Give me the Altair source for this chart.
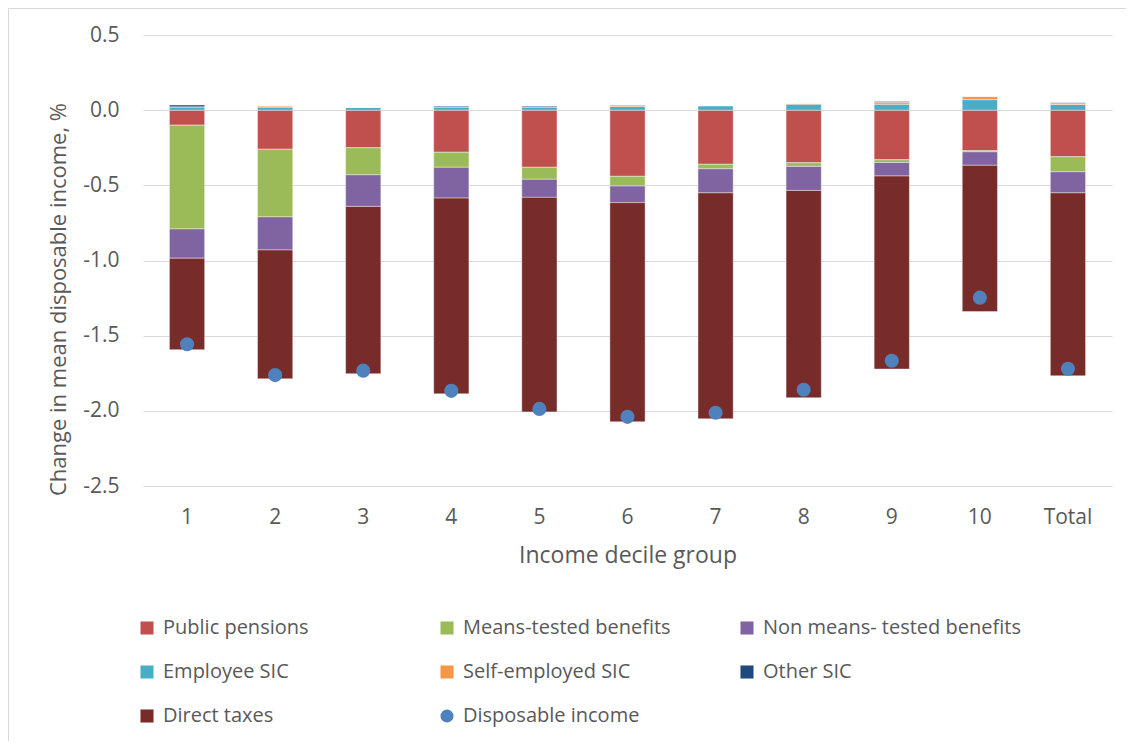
import altair as alt
import pandas as pd

groups = ["1", "2", "3", "4", "5", "6", "7", "8", "9", "10", "Total"]

public_pensions = [-0.10, -0.26, -0.25, -0.28, -0.38, -0.44, -0.36, -0.35, -0.33, -0.27, -0.31]
means_tested = [-0.69, -0.45, -0.18, -0.10, -0.08, -0.065, -0.03, -0.024, -0.018, -0.007, -0.10]
non_means_tested = [-0.195, -0.22, -0.21, -0.205, -0.12, -0.11, -0.16, -0.16, -0.09, -0.09, -0.14]
employee_sic = [0.022, 0.02, 0.018, 0.02, 0.02, 0.025, 0.03, 0.04, 0.04, 0.07, 0.038]
self_employed_sic = [0.0, 0.008, 0.0, 0.0, 0.0, 0.006, 0.0, 0.005, 0.012, 0.021, 0.006]
other_sic = [0.012, 0.0, 0.0, 0.006, 0.006, 0.004, 0.0, 0.0, 0.006, 0.0, 0.006]
direct_taxes = [-0.608, -0.857, -1.113, -1.302, -1.427, -1.458, -1.503, -1.379, -1.284, -0.973, -1.217]
disposable_income = [-1.557, -1.762, -1.733, -1.867, -1.987, -2.04, -2.013, -1.86, -1.667, -1.247, -1.72]

series_names = [
    "Public pensions", "Means-tested benefits", "Non means- tested benefits",
    "Employee SIC", "Self-employed SIC", "Other SIC", "Direct taxes", "Disposable income",
]
series_colors = ["#C0504D", "#9BBB59", "#8064A2", "#4BACC6", "#F79646", "#1F497D", "#772C2A", "#4F81BD"]
series_shapes = ["square"] * 7 + ["circle"]

bar_values = [public_pensions, means_tested, non_means_tested, employee_sic,
              self_employed_sic, other_sic, direct_taxes]

rows = []
for k, vals in enumerate(bar_values):
    for i, g in enumerate(groups):
        rows.append({"group": g, "series": series_names[k], "value": vals[i], "order": k})
bars_df = pd.DataFrame(rows)
dots_df = pd.DataFrame({"group": groups, "series": "Disposable income", "value": disposable_income})

FONT = "Open Sans"
GREY = "#595959"

x_enc = alt.X("group:N", sort=groups, title="Income decile group",
              scale=alt.Scale(paddingInner=0.6, paddingOuter=0.3),
              axis=alt.Axis(labelAngle=0, ticks=False, domain=False, grid=False,
                            labelPadding=20, titlePadding=17, titleFontSize=23))
y_scale = alt.Scale(domain=[-2.5, 0.5], nice=False, zero=False)
y_axis = alt.Axis(values=[-2.5, -2.0, -1.5, -1.0, -0.5, 0.0, 0.5],
                  labelExpr="replace(format(datum.value, '.1f'), '\u2212', '-')",
                  ticks=False, domain=False, grid=True, labelPadding=24,
                  titlePadding=12, titleY=264, titleFontSize=22)


def make_legend():
    return alt.Legend(title=None, orient="none", legendX=-6, legendY=583,
                      direction="horizontal", columns=3, gridAlign="all",
                      columnPadding=16, rowPadding=24, symbolSize=170, labelOffset=6,
                      labelLimit=400, symbolStrokeWidth=0)


color_enc = alt.Color("series:N", scale=alt.Scale(domain=series_names, range=series_colors),
                      legend=make_legend())
shape_enc = alt.Shape("series:N", scale=alt.Scale(domain=series_names, range=series_shapes),
                      legend=make_legend())

frame_top = alt.Chart(alt.Data(values=[{}])).mark_rule(color="#d9d9d9", strokeWidth=1).encode(
    x=alt.value(-134.5), x2=alt.value(983), y=alt.value(-26.5))
frame_left = alt.Chart(alt.Data(values=[{}])).mark_rule(color="#d9d9d9", strokeWidth=1).encode(
    x=alt.value(-134.5), y=alt.value(-26.5), y2=alt.value(706))

bars = alt.Chart(bars_df).mark_bar(stroke="white", strokeWidth=0.6, strokeOpacity=0.7).encode(
    x=x_enc,
    y=alt.Y("value:Q", stack="zero", scale=y_scale, axis=y_axis,
            title="Change in mean disposable income, %"),
    color=color_enc,
    order=alt.Order("order:Q"),
)

dots = alt.Chart(dots_df).mark_point(filled=True, size=200, opacity=1).encode(
    x=alt.X("group:N", sort=groups),
    y=alt.Y("value:Q", scale=y_scale),
    color=color_enc,
    shape=shape_enc,
)

chart = alt.layer(frame_top, frame_left, bars, dots).properties(
    width=969, height=451,
    autosize=alt.AutoSizeParams(type="none"),
    padding={"left": 135, "top": 27, "right": 14, "bottom": 255},
).configure(
    font=FONT,
).configure_view(
    stroke=None,
).configure_axis(
    labelFont=FONT, titleFont=FONT, labelFontSize=21, titleFontSize=20,
    labelColor=GREY, titleColor=GREY, titleFontWeight="normal",
    gridColor="#d9d9d9", gridWidth=1.2,
).configure_legend(
    labelFont=FONT, labelFontSize=20, labelColor=GREY,
)

chart.save("out.html", embed_options={"renderer": "svg", "actions": False})
